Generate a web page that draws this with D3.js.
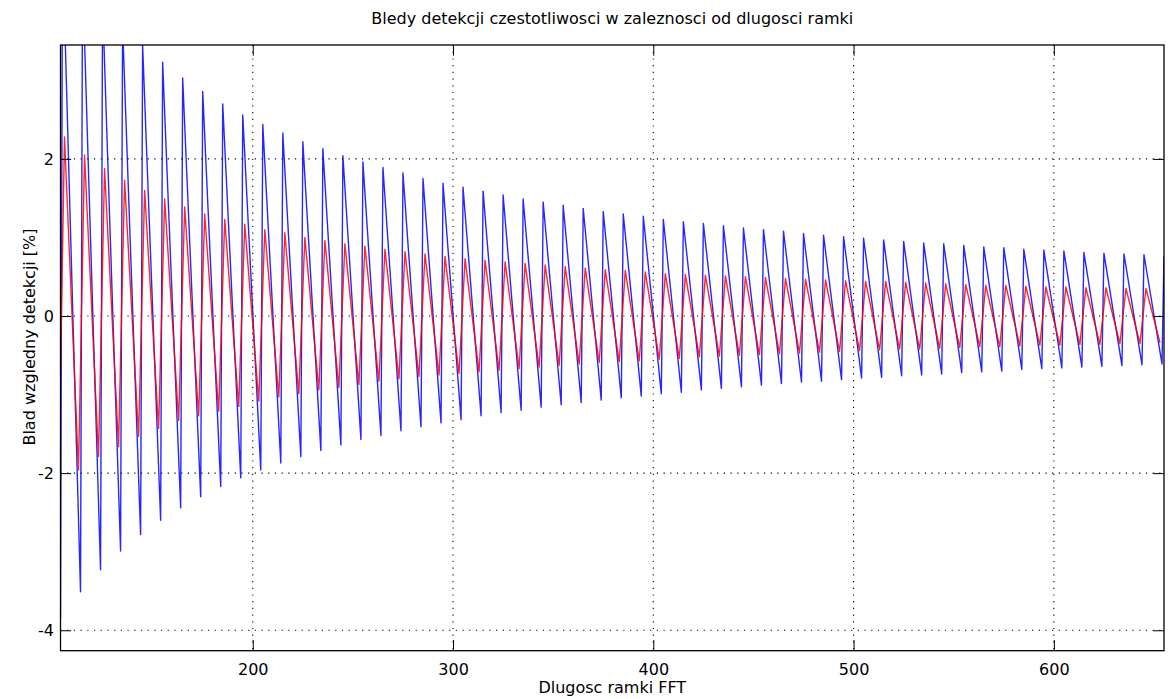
<!DOCTYPE html>
<html>
<head>
<meta charset="utf-8">
<script src="https://cdn.jsdelivr.net/npm/d3@7"></script>
<style>
  body { margin: 0; background: #fff; }
  svg { display: block; }
  text { font-family: "DejaVu Sans", sans-serif; }
</style>
</head>
<body>
<svg id="chart" width="1170" height="699"></svg>
<script>
// axis setup
var xDomain = [104, 655];
var yDomain = [-4.26, 3.45];
var xTicks = [200, 300, 400, 500, 600];
var yTicks = [-4, -2, 0, 2];

// blue: values just before each jump (troughs) and right after (peaks), error in %
var blueTroughN = [104, 114, 124, 134, 144, 154, 164, 174, 184, 194, 204, 214, 224, 234, 244, 254, 264, 274, 284, 294,
	304, 314, 324, 334, 344, 354, 364, 374, 384, 394, 404, 414, 424, 434, 444, 454, 464, 474, 484, 494,
	504, 514, 524, 534, 544, 554, 564, 574, 584, 594, 604, 614, 624, 634, 644, 654];
var blueTrough = [-3.85, -3.51, -3.23, -2.99, -2.78, -2.60, -2.44, -2.30, -2.17, -2.06, -1.96, -1.87, -1.79, -1.71, -1.64, -1.57, -1.52, -1.46, -1.41, -1.36,
	-1.32, -1.27, -1.23, -1.20, -1.16, -1.13, -1.10, -1.07, -1.04, -1.02, -0.99, -0.97, -0.94, -0.92, -0.90, -0.88, -0.86, -0.84, -0.83, -0.81,
	-0.79, -0.78, -0.76, -0.75, -0.74, -0.72, -0.71, -0.70, -0.68, -0.67, -0.66, -0.65, -0.64, -0.63, -0.62, -0.61];
var bluePeakN = [105, 115, 125, 135, 145, 155, 165, 175, 185, 195, 205, 215, 225, 235, 245, 255, 265, 275, 285, 295,
	305, 315, 325, 335, 345, 355, 365, 375, 385, 395, 405, 415, 425, 435, 445, 455, 465, 475, 485, 495,
	505, 515, 525, 535, 545, 555, 565, 575, 585, 595, 605, 615, 625, 635, 645, 655];
var bluePeak = [4.76, 4.35, 4.00, 3.70, 3.45, 3.23, 3.03, 2.86, 2.70, 2.56, 2.44, 2.33, 2.22, 2.13, 2.04, 1.96, 1.89, 1.82, 1.75, 1.69,
	1.64, 1.59, 1.54, 1.49, 1.45, 1.41, 1.37, 1.33, 1.30, 1.27, 1.23, 1.20, 1.18, 1.15, 1.12, 1.10, 1.08, 1.05, 1.03, 1.01,
	0.99, 0.97, 0.95, 0.93, 0.92, 0.90, 0.88, 0.87, 0.85, 0.84, 0.83, 0.81, 0.80, 0.79, 0.78, 0.76];

// red: smaller sawtooth, troughs and peaks
var redTroughN = [103, 113, 123, 133, 143, 153, 163, 173, 183, 193, 203, 213, 223, 233, 243, 253, 263, 273, 283, 293,
	303, 313, 323, 333, 343, 353, 363, 373, 383, 393, 403, 413, 423, 433, 443, 453, 463, 473, 483, 493,
	503, 513, 523, 533, 543, 553, 563, 573, 583, 593, 603, 613, 623, 633, 643, 653];
var redTrough = [-2.14, -1.96, -1.79, -1.66, -1.53, -1.43, -1.33, -1.27, -1.21, -1.15, -1.08, -1.03, -0.99, -0.94, -0.91, -0.87, -0.83, -0.80, -0.77, -0.75,
	-0.73, -0.71, -0.69, -0.67, -0.65, -0.63, -0.61, -0.59, -0.58, -0.57, -0.55, -0.54, -0.52, -0.51, -0.50, -0.49, -0.48, -0.47, -0.46, -0.45,
	-0.44, -0.43, -0.42, -0.42, -0.41, -0.40, -0.39, -0.39, -0.38, -0.37, -0.37, -0.36, -0.36, -0.35, -0.35, -0.34];
var redPeakN = [106, 116, 126, 136, 146, 156, 166, 176, 186, 196, 206, 216, 226, 236, 246, 256, 266, 276, 286, 296,
	306, 316, 326, 336, 346, 356, 366, 376, 386, 396, 406, 416, 426, 436, 446, 456, 466, 476, 486, 496,
	506, 516, 526, 536, 546, 556, 566, 576, 586, 596, 606, 616, 626, 636, 646];
var redPeak = [2.28, 2.05, 1.88, 1.73, 1.60, 1.49, 1.39, 1.30, 1.23, 1.17, 1.10, 1.06, 1.00, 0.96, 0.92, 0.89, 0.85, 0.82, 0.79, 0.76,
	0.73, 0.71, 0.69, 0.67, 0.65, 0.63, 0.61, 0.59, 0.58, 0.56, 0.54, 0.53, 0.52, 0.51, 0.50, 0.49, 0.48, 0.47, 0.46, 0.45,
	0.44, 0.44, 0.43, 0.42, 0.41, 0.40, 0.39, 0.39, 0.38, 0.37, 0.37, 0.36, 0.36, 0.35, 0.35];

var plotLeft = 60.5, plotRight = 1164, plotTop = 45, plotBottom = 650.7;

var svg = d3.select("#chart");

var x = d3.scaleLinear().domain(xDomain).range([plotLeft, plotRight]);
var y = d3.scaleLinear().domain(yDomain).range([plotBottom, plotTop]);

// zip trough/peak lists into one zig-zag
function zigzag(aN, aV, bN, bV) {
	var pts = [];
	for (var i=0; i<aN.length; i++) {
		pts.push([aN[i], aV[i]]);
		if (i < bN.length) pts.push([bN[i], bV[i]]);
	}
	return pts;
}

var bluePts = zigzag(blueTroughN, blueTrough, bluePeakN, bluePeak);
var redPts = zigzag(redTroughN, redTrough, redPeakN, redPeak);

svg.append("defs").append("clipPath").attr("id", "plotclip")
	.append("rect")
		.attr("x", plotLeft)
		.attr("y", plotTop)
		.attr("width", plotRight - plotLeft)
		.attr("height", plotBottom - plotTop);

// grid
var grid = svg.append("g").attr("class", "grid");
grid.selectAll(".gx").data(xTicks)
	.enter().append("line")
		.attr("x1", function(d){ return x(d); })
		.attr("x2", function(d){ return x(d); })
		.attr("y1", plotTop)
		.attr("y2", plotBottom)
		.attr("stroke", "#000")
		.attr("stroke-width", 1.1)
		.attr("stroke-dasharray", "1.2,5.5");
grid.selectAll(".gy").data(yTicks)
	.enter().append("line")
		.attr("x1", plotLeft)
		.attr("x2", plotRight)
		.attr("y1", function(d){ return y(d); })
		.attr("y2", function(d){ return y(d); })
		.attr("stroke", "#000")
		.attr("stroke-width", 1.1)
		.attr("stroke-dasharray", "1.2,5.5");

var line = d3.line()
	.x(function(d){ return x(d[0]); })
	.y(function(d){ return y(d[1]); });

var plot = svg.append("g").attr("clip-path", "url(#plotclip)");
plot.append("path")
	.datum(bluePts)
	.attr("d", line)
	.attr("fill", "none")
	.attr("stroke", "#0000ff")
	.attr("stroke-opacity", 0.85)
	.attr("stroke-width", 1.4)
	.attr("stroke-linejoin", "round");
plot.append("path")
	.datum(redPts)
	.attr("d", line)
	.attr("fill", "none")
	.attr("stroke", "#ff0000")
	.attr("stroke-opacity", 0.85)
	.attr("stroke-width", 1.4)
	.attr("stroke-linejoin", "round");

// axes, ticks pointing inward
var tickLen = 10.7;
function styleAxis(g) {
	g.select(".domain").remove();
	g.selectAll("line").attr("stroke", "#000").attr("stroke-width", 1);
	g.selectAll("text").attr("fill", "#000");
	g.attr("font-size", 16).attr("font-family", "DejaVu Sans");
}
// plain hyphen minus like the original
function plainNum(d) { return String(d); }

svg.append("g")
	.attr("transform", "translate(0," + plotBottom + ")")
	.call(d3.axisBottom(x).tickValues(xTicks).tickSize(-tickLen).tickPadding(13).tickFormat(plainNum))
	.call(styleAxis);
svg.append("g")
	.attr("transform", "translate(0," + plotTop + ")")
	.call(d3.axisTop(x).tickValues(xTicks).tickSize(-tickLen).tickFormat(""))
	.call(styleAxis);
svg.append("g")
	.attr("transform", "translate(" + plotLeft + ",0)")
	.call(d3.axisLeft(y).tickValues(yTicks).tickSize(-tickLen).tickPadding(6.5).tickFormat(plainNum))
	.call(styleAxis);
svg.append("g")
	.attr("transform", "translate(" + plotRight + ",0)")
	.call(d3.axisRight(y).tickValues(yTicks).tickSize(-tickLen).tickFormat(""))
	.call(styleAxis);

// frame
svg.append("rect")
	.attr("x", plotLeft)
	.attr("y", plotTop)
	.attr("width", plotRight - plotLeft)
	.attr("height", plotBottom - plotTop)
	.attr("fill", "none")
	.attr("stroke", "#000")
	.attr("stroke-width", 1.3);

// labels
svg.append("text")
	.attr("x", (plotLeft + plotRight) / 2)
	.attr("y", 24)
	.attr("text-anchor", "middle")
	.attr("font-size", 16)
	.text("Bledy detekcji czestotliwosci w zaleznosci od dlugosci ramki");

svg.append("text")
	.attr("x", (plotLeft + plotRight) / 2)
	.attr("y", 693)
	.attr("text-anchor", "middle")
	.attr("font-size", 16)
	.text("Dlugosc ramki FFT");

svg.append("text")
	.attr("transform", "translate(35,337) rotate(-90)")
	.attr("text-anchor", "middle")
	.attr("font-size", 16)
	.text("Blad wzgledny detekcji [%]");
</script>
</body>
</html>
